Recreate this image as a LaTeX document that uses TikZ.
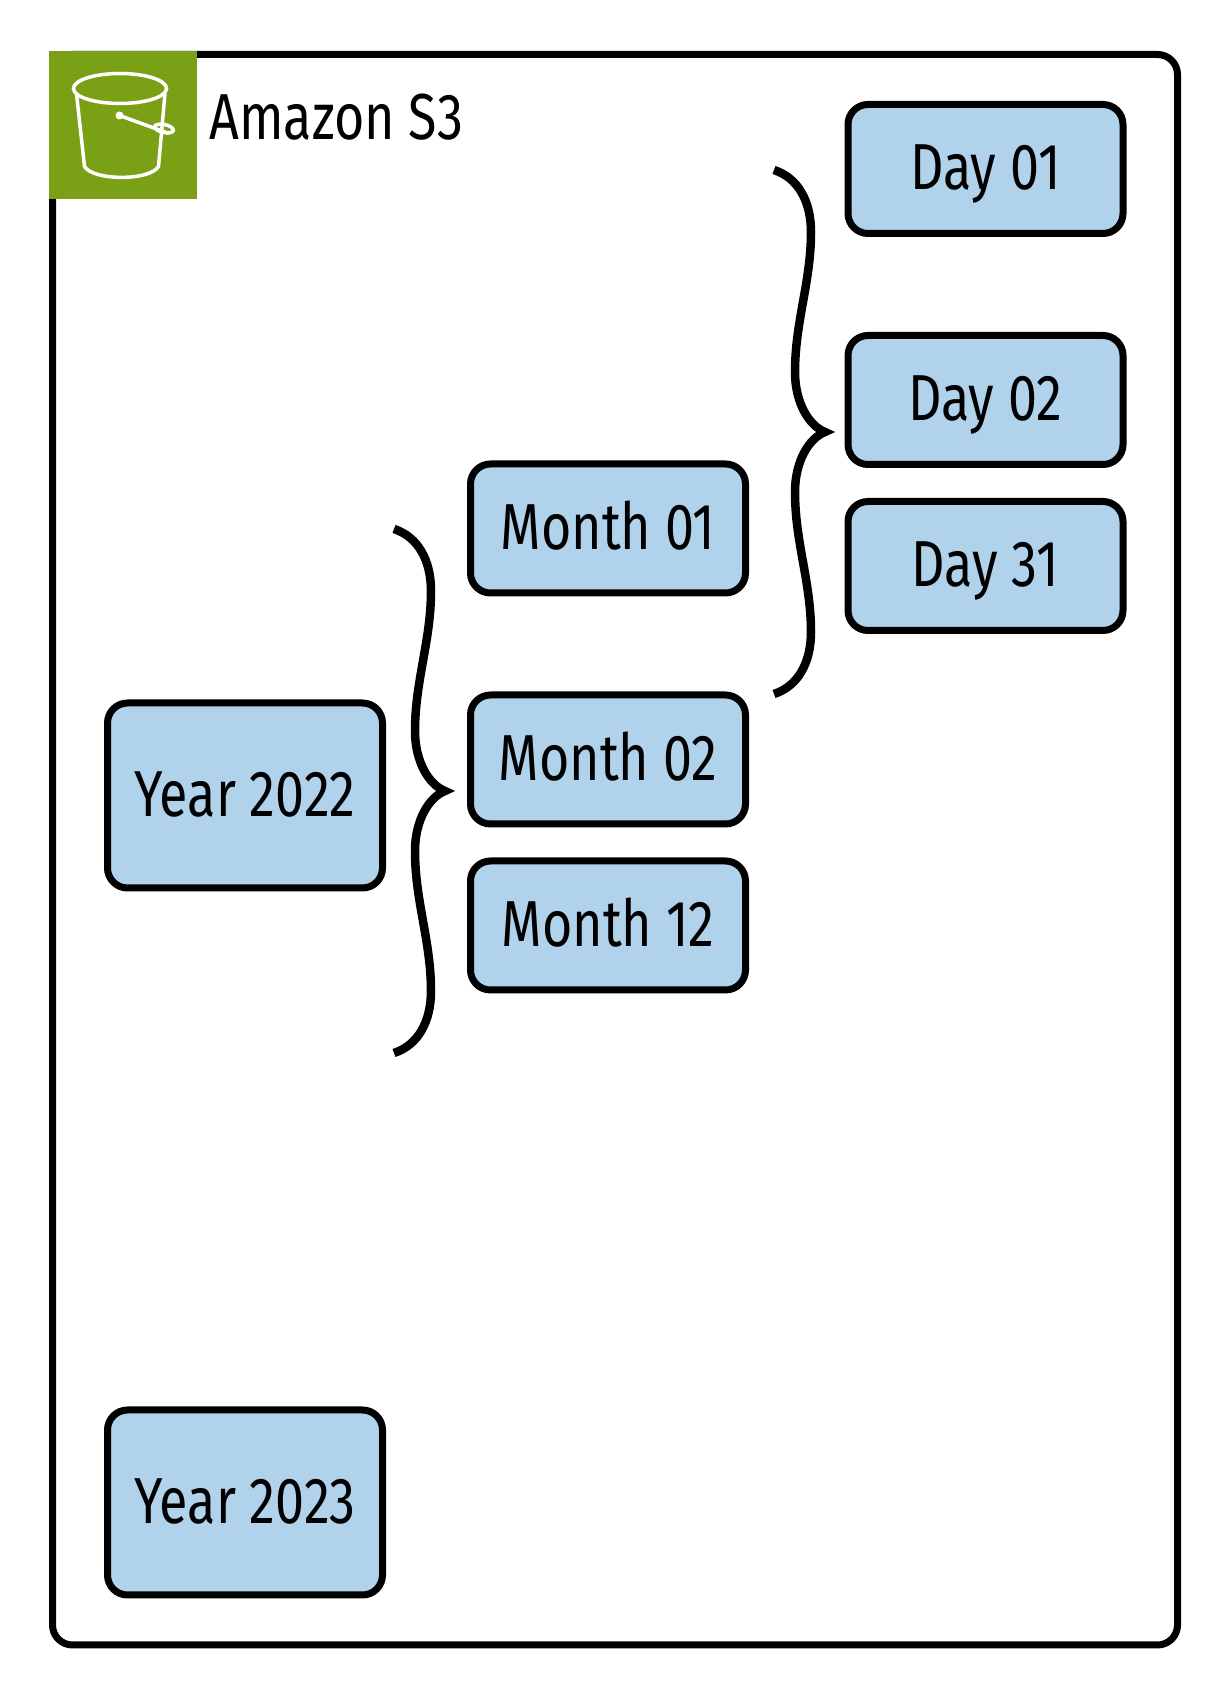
\documentclass[tikz,border=0pt]{standalone}
\usepackage{fontspec}
\setmainfont[FakeStretch=0.80]{Fira Sans}
\usepackage{tikz}
\usetikzlibrary{positioning}
\definecolor{folderblue}{RGB}{176, 210, 234}
\definecolor{bucketgreen}{RGB}{122, 161, 22}
\tikzset{
    folder/.style={rectangle, rounded corners=0.4cm, draw=black, line width=0.14cm, fill=folderblue, minimum width=5.5cm, minimum height=2.58cm, text height=0.84cm, text depth=0pt, font=\fontsize{37}{40}\selectfont},
    yearfolder/.style={folder, minimum height=3.7cm},
    curly/.pic={
        \draw[black, line width=0.17cm] (-1.14,5.24) .. controls (-0.65,5.08) and (-0.4,4.6) .. (-0.4,4.0)
            .. controls (-0.4,3.0) and (-0.72,2.2) .. (-0.72,1.2) .. controls (-0.72,0.6) and (-0.45,0.13) .. (-0.12,0)
            .. controls (-0.45,-0.13) and (-0.72,-0.6) .. (-0.72,-1.2) .. controls (-0.72,-2.2) and (-0.4,-3.0) .. (-0.4,-4.0)
            .. controls (-0.4,-4.6) and (-0.65,-5.08) .. (-1.14,-5.24);
    }
}
\begin{document}
\begin{tikzpicture}
        \useasboundingbox (0,0) rectangle (24.48,33.7);
        \node[rectangle, rounded corners=0.4cm, draw=black, line width=0.14cm, minimum width=22.5cm, minimum height=31.81cm] (bucket) at (12.30,16.705) {};
        \node[rectangle, fill=bucketgreen, minimum size=2.96cm, inner sep=0pt] (icon) at (2.46,31.2) {};
        \begin{scope}[shift={(icon.center)}, white, line width=0.07cm]
            \draw (-0.06,0.73) ellipse (0.93 and 0.30);
            \draw (-0.93,0.63) -- (-0.77,-0.83) .. controls (-0.6,-1.12) and (0.54,-1.12) .. (0.71,-0.83) -- (0.84,0.63);
            \fill (-0.07,0.19) circle (0.08);
            \draw (-0.07,0.19) -- (0.92,-0.17);
            \draw[rotate around={-12:(0.82,-0.07)}] (0.82,-0.07) ellipse (0.19 and 0.08);
        \end{scope}
        \node[anchor=base west, inner sep=0pt, font=\fontsize{37}{40}\selectfont] (title) at (4.18,30.9) {Amazon S3};
        % years
        \node[yearfolder] (y2022) at (4.90,17.79) {Year 2022};
        \node[yearfolder] (y2023) at (4.90,3.65) {Year 2023};
        % months
        \node[folder] (m01) at (12.16,23.13) {Month 01};
        \node[folder] (m02) at (12.16,18.51) {Month 02};
        \node[folder] (m12) at (12.16,15.19) {Month 12};
        % days
        \node[folder] (d01) at (19.71,30.32) {Day 01};
        \node[folder] (d02) at (19.71,25.70) {Day 02};
        \node[folder] (d31) at (19.71,22.38) {Day 31};
        \pic at (9.02,17.88) {curly};
        \pic at (16.62,25.06) {curly};
\end{tikzpicture}
\end{document}
